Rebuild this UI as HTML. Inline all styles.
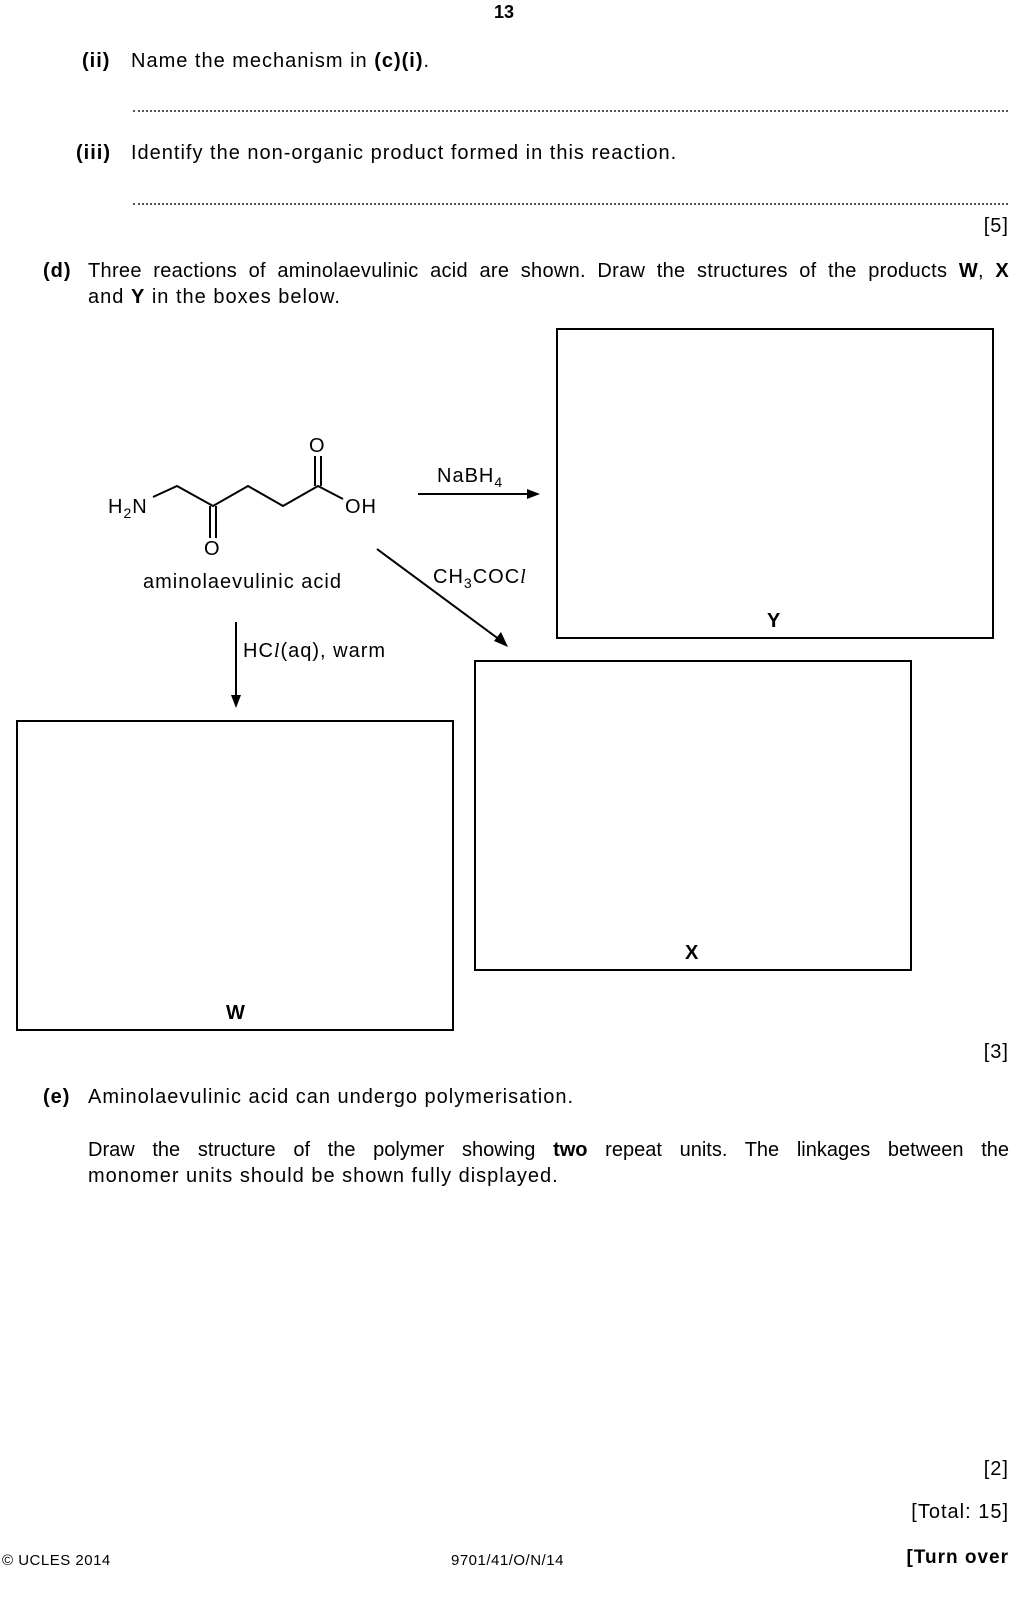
<!DOCTYPE html>
<html><head><meta charset="utf-8"><style>
body{margin:0;width:1034px;height:1606px;position:relative;background:#fff;font-family:"Liberation Sans",sans-serif;color:#000;}
.t{position:absolute;font-size:20px;letter-spacing:1px;white-space:nowrap;line-height:1;}
.r{position:absolute;right:25px;font-size:20px;letter-spacing:1px;white-space:nowrap;line-height:1;text-align:right}
.b{font-weight:bold}
.dots{position:absolute;left:133px;width:875px;border-bottom:2px dotted #555;height:0}
.box{position:absolute;border:2px solid #000;box-sizing:border-box}
</style></head><body>
<div class="t b" style="left:494px;top:3px;font-size:18px;letter-spacing:0">13</div>
<div class="t b" style="left:82px;top:51px">(ii)</div>
<div class="t" style="left:131px;top:51px">Name the mechanism in <b>(c)(i)</b>.</div>
<div class="dots" style="top:110px"></div>
<div class="t b" style="left:76px;top:143px">(iii)</div>
<div class="t" style="left:131px;top:143px">Identify the non-organic product formed in this reaction.</div>
<div class="dots" style="top:203px"></div>
<div class="r" style="top:216px">[5]</div>
<div class="t b" style="left:43px;top:261px">(d)</div>
<div class="t" style="left:88px;top:261px;width:921px;text-align:justify;text-align-last:justify;letter-spacing:0.3px">Three reactions of aminolaevulinic acid are shown. Draw the structures of the products <b>W</b>, <b>X</b></div>
<div class="t" style="left:88px;top:287px">and <b>Y</b> in the boxes below.</div>

<div class="box" style="left:556px;top:328px;width:438px;height:311px"></div>
<div class="box" style="left:474px;top:660px;width:438px;height:311px"></div>
<div class="box" style="left:16px;top:720px;width:438px;height:311px"></div>
<div class="t b" style="left:767px;top:611px">Y</div>
<div class="t b" style="left:685px;top:943px">X</div>
<div class="t b" style="left:226px;top:1003px">W</div>

<svg style="position:absolute;left:0;top:0" width="1034" height="1100">
<g stroke="#000" stroke-width="2" fill="none">
<polyline points="153,497 177,486 213,506 248,486 283,506 318,486 343,499"/>
<line x1="210" y1="506" x2="210" y2="538"/><line x1="216" y1="506" x2="216" y2="538"/>
<line x1="315" y1="486" x2="315" y2="456"/><line x1="321" y1="486" x2="321" y2="456"/>
<line x1="418" y1="494" x2="530" y2="494"/>
<line x1="377" y1="549" x2="500" y2="640"/>
<line x1="236" y1="622" x2="236" y2="698"/>
</g>
<g fill="#000">
<polygon points="540,494 527,489 527,499"/>
<polygon points="508,647 494,641 501,632"/>
<polygon points="236,708 231,695 241,695"/>
</g>
<g font-family="Liberation Sans,sans-serif" font-size="20" letter-spacing="1">
<text x="108" y="513">H<tspan font-size="14" dy="5">2</tspan><tspan dy="-5">N</tspan></text>
<text x="345" y="513">OH</text>
<text x="204" y="555">O</text>
<text x="309" y="452">O</text>
<text x="143" y="588">aminolaevulinic acid</text>
<text x="437" y="482">NaBH<tspan font-size="14" dy="5">4</tspan></text>
<text x="433" y="583">CH<tspan font-size="14" dy="5">3</tspan><tspan dy="-5">COC</tspan><tspan font-family="Liberation Serif,serif" font-style="italic">l</tspan></text>
<text x="243" y="657">HC<tspan font-family="Liberation Serif,serif" font-style="italic">l</tspan>(aq), warm</text>
</g>
</svg>

<div class="r" style="top:1042px">[3]</div>
<div class="t b" style="left:43px;top:1087px">(e)</div>
<div class="t" style="left:88px;top:1087px">Aminolaevulinic acid can undergo polymerisation.</div>
<div class="t" style="left:88px;top:1140px;width:921px;text-align:justify;text-align-last:justify;letter-spacing:0">Draw the structure of the polymer showing <b>two</b> repeat units. The linkages between the</div>
<div class="t" style="left:88px;top:1166px">monomer units should be shown fully displayed.</div>
<div class="r" style="top:1459px">[2]</div>
<div class="r" style="top:1502px">[Total: 15]</div>
<div class="t" style="left:2px;top:1553px;font-size:15px;letter-spacing:0.5px">© UCLES 2014</div>
<div class="t" style="left:451px;top:1553px;font-size:15px;letter-spacing:0.5px">9701/41/O/N/14</div>
<div class="r b" style="top:1548px;font-size:19px">[Turn over</div>
</body></html>
